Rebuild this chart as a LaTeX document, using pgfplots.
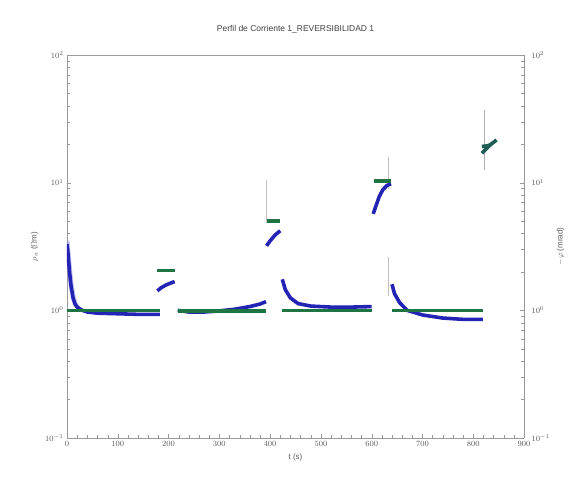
\documentclass[border=0pt]{standalone}
\usepackage{pgfplots}
\pgfplotsset{compat=1.18}
\usepackage{fontspec}
\setmainfont{Liberation Sans}
\definecolor{bl}{HTML}{2323B4}
\definecolor{blh}{HTML}{8A8AE8}
\definecolor{gr}{HTML}{1F7444}
\definecolor{tl}{HTML}{1F5C55}
\definecolor{fr}{HTML}{9A9A9A}
\begin{document}
\begin{tikzpicture}
\begin{axis}[
  at={(0,0)}, anchor=south west, scale only axis,
  width=457bp, height=383bp,
  xmin=0, xmax=900, ymode=log, ymin=0.1, ymax=100,
  axis line style={fr, line width=0.9pt},
  tick style={fr},
  tick label style={font=\fontsize{8}{9}\selectfont, text=black!65},
  label style={font=\fontsize{8}{9}\selectfont, text=black!65},
  axis y line*=left, axis x line*=bottom,
  xtick={0,100,...,900}, minor x tick num=4,
  ylabel={$\rho_a$ ($\Omega$m)},
  xlabel={t (s)},
  title={Perfil de Corriente 1\_REVERSIBILIDAD 1},
  title style={font=\fontsize{8.5}{10}\selectfont, text=black!75, yshift=12bp},
]
% error bars (grey)
\addplot[gray!50, line width=0.6pt] coordinates {(392,4.8) (392,10.5)};
\addplot[gray!50, line width=0.6pt] coordinates {(632,9.0) (632,16)};
\addplot[gray!50, line width=0.6pt] coordinates {(632,1.3) (632,2.6)};
\addplot[gray!60, line width=0.6pt] coordinates {(821,12.5) (821,36.8)};
% blue halo + series
\addplot[blh, line width=5pt, opacity=0.5] coordinates {(0,3.5) (2,2.9) (5,2.1) (8,1.6) (12,1.28) (16,1.13) (20,1.06)};
\addplot[bl, line width=3.6pt] coordinates {(0,3.3) (2,2.8) (5,2.0) (8,1.55) (12,1.25) (16,1.12) (20,1.06) (30,1.0) (40,0.97) (60,0.95) (100,0.94) (140,0.93) (183,0.93)};
\addplot[bl, line width=3.6pt] coordinates {(178,1.42) (185,1.5) (195,1.58) (205,1.64) (212,1.68)};
\addplot[bl, line width=3.6pt] coordinates {(218,1.0) (240,0.97) (270,0.97) (300,0.99) (330,1.02) (360,1.07) (380,1.12) (392,1.17)};
\addplot[bl, line width=3.6pt] coordinates {(393,3.2) (400,3.5) (410,3.9) (420,4.2)};
\addplot[bl, line width=3.6pt] coordinates {(424,1.75) (430,1.45) (440,1.25) (455,1.13) (480,1.08) (520,1.06) (560,1.06) (600,1.07)};
\addplot[bl, line width=3.6pt] coordinates {(603,5.7) (608,6.5) (615,7.8) (622,8.8) (630,9.5) (638,9.8)};
\addplot[bl, line width=3.6pt] coordinates {(640,1.6) (645,1.35) (655,1.15) (670,1.0) (700,0.92) (740,0.87) (780,0.85) (819,0.85)};
% green series
\addplot[gr, line width=3.6pt] coordinates {(0,1.0) (183,1.0)};
\addplot[gr, line width=3.6pt] coordinates {(178,2.05) (212,2.05)};
\addplot[gr, line width=3.6pt] coordinates {(218,0.99) (392,0.99)};
\addplot[gr, line width=3.6pt] coordinates {(393,5.0) (420,5.0)};
\addplot[gr, line width=3.6pt] coordinates {(424,1.0) (600,1.0)};
\addplot[gr, line width=3.6pt] coordinates {(605,10.3) (638,10.3)};
\addplot[gr, line width=3.6pt] coordinates {(640,1.0) (819,1.0)};
% last spike
\addplot[tl, line width=3.6pt] coordinates {(817,17) (826,18.5) (835,20) (846,21.6)};
\addplot[tl, line width=3.6pt] coordinates {(817,19.2) (826,19.4) (835,19.8)};
\end{axis}
\begin{axis}[
  at={(0,0)}, anchor=south west, scale only axis,
  width=457bp, height=383bp,
  xmin=0, xmax=900, ymode=log, ymin=0.1, ymax=100,
  axis line style={fr, line width=0.9pt},
  tick style={fr},
  tick label style={font=\fontsize{8}{9}\selectfont, text=black!65},
  yticklabel style={xshift=4bp},
  label style={font=\fontsize{8}{9}\selectfont, text=black!65},
  axis y line*=right, axis x line=none,
  ylabel={$-\varphi$ (mrad)},
]
\addplot[draw=none] coordinates {(0,1)};
\end{axis}
\draw[fr, line width=0.9pt] (0,383bp) -- (457bp,383bp);
\pgfresetboundingbox
\path (-67bp,-45bp) rectangle (504bp,438bp);
\end{tikzpicture}
\end{document}
